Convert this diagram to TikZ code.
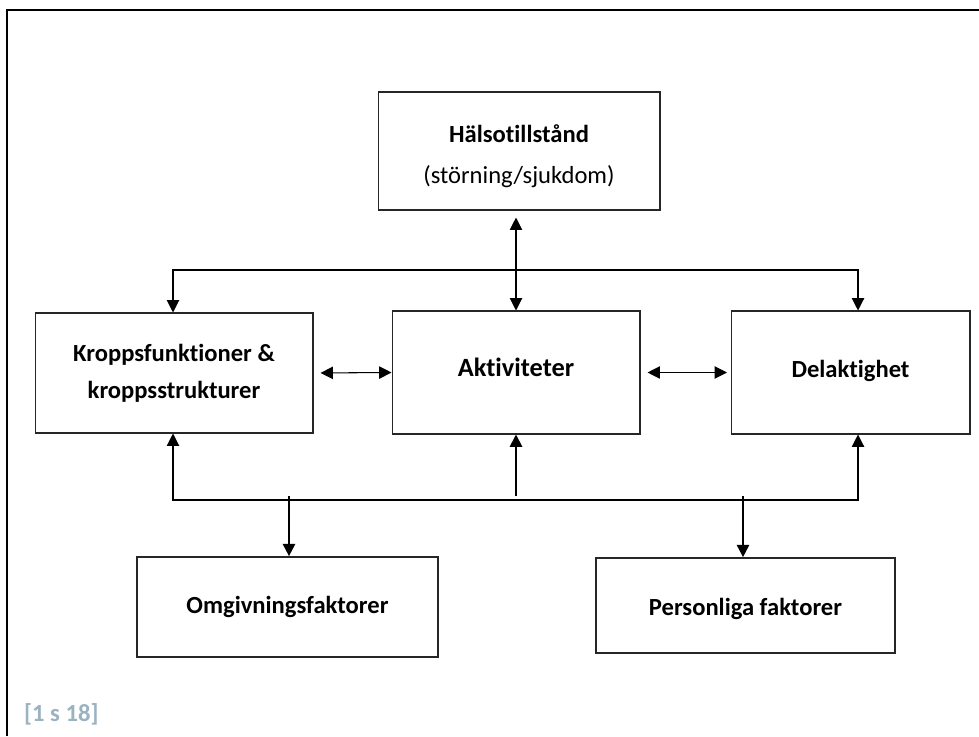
\documentclass[tikz,border=0pt]{standalone}
\usepackage{fontspec}
\setmainfont{Carlito}[Ligatures=NoCommon]
\usetikzlibrary{arrows.meta}
\definecolor{srcgray}{RGB}{155,178,192}

\begin{document}
\begin{tikzpicture}[x=0.02cm,y=-0.02cm,>={Triangle[length=7pt,width=7pt]},
  box/.style={draw=black!85,line width=0.6pt,align=center,font=\fontsize{14}{19}\selectfont\bfseries},
  lowbox/.style={box,line width=1pt},
  thin/.style={line width=0.6pt},
  bold/.style={line width=1.1pt}]
  \useasboundingbox (0,0) rectangle (979,736);
  \draw[line width=1.5pt] (7,736) -- (7,10) -- (979,10);
  % boxes
  \node[box,font=\fontsize{14}{23}\selectfont,minimum width=5.64cm,minimum height=2.36cm] (halsa) at (519,151)
    {\rule{0pt}{16pt}\textbf{H\"alsotillst\r{a}nd}\\(st\"orning/sjukdom)};
  \node[box,minimum width=5.56cm,minimum height=2.4cm] (kropp) at (174,373)
    {Kroppsfunktioner \&\\[2pt]kroppsstrukturer};
  \node[box,font=\fontsize{15}{19}\selectfont\bfseries,text height=8.5pt,text depth=4pt,
    minimum width=4.96cm,minimum height=2.46cm] (akt) at (516,372.5) {Aktiviteter};
  \node[box,text height=9pt,text depth=2.8pt,minimum width=4.78cm,minimum height=2.46cm] (del) at (850.5,372.5) {Delaktighet};
  \node[lowbox,minimum width=6.02cm,minimum height=2cm] (omg) at (287.5,607) {Omgivningsfaktorer};
  \node[lowbox,text height=13pt,text depth=1.2pt,minimum width=5.98cm,minimum height=1.9cm] (pers) at (745.5,605.5) {Personliga faktorer};
  % bus ends
  \coordinate (tl) at (173,270);
  \coordinate (tr) at (858,270);
  \coordinate (bl) at (173,500);
  \coordinate (br) at (858,500);
  \coordinate (bm) at (516,496);
  \coordinate (bo) at (289,496);
  \coordinate (bp) at (743,496);
  % connectors
  \draw[thin,<->] (tl |- kropp.north) -- (tl) -- (tr) -- (tr |- del.north);
  \draw[thin,<->,shorten <=4pt] (akt.north |- halsa.south) -- (akt.north);
  \draw[thin,<->,shorten <=4pt] (kropp.east) -- (akt.west);
  \draw[thin,<->,shorten <=4pt,shorten >=2pt] (akt.east) -- (del.west);
  \draw[thin,<->] (bl |- kropp.south) -- (bl) -- (br) -- (br |- del.south);
  \draw[bold,->] (bm) -- (akt.south);
  \draw[bold,->] (bo) -- (bo |- omg.north);
  \draw[bold,->] (bp) -- (bp |- pers.north);
  \node[anchor=west,text=srcgray,font=\fontsize{14}{17}\selectfont\bfseries] (src) at (18,714) {[1 s 18]};
\end{tikzpicture}
\end{document}
